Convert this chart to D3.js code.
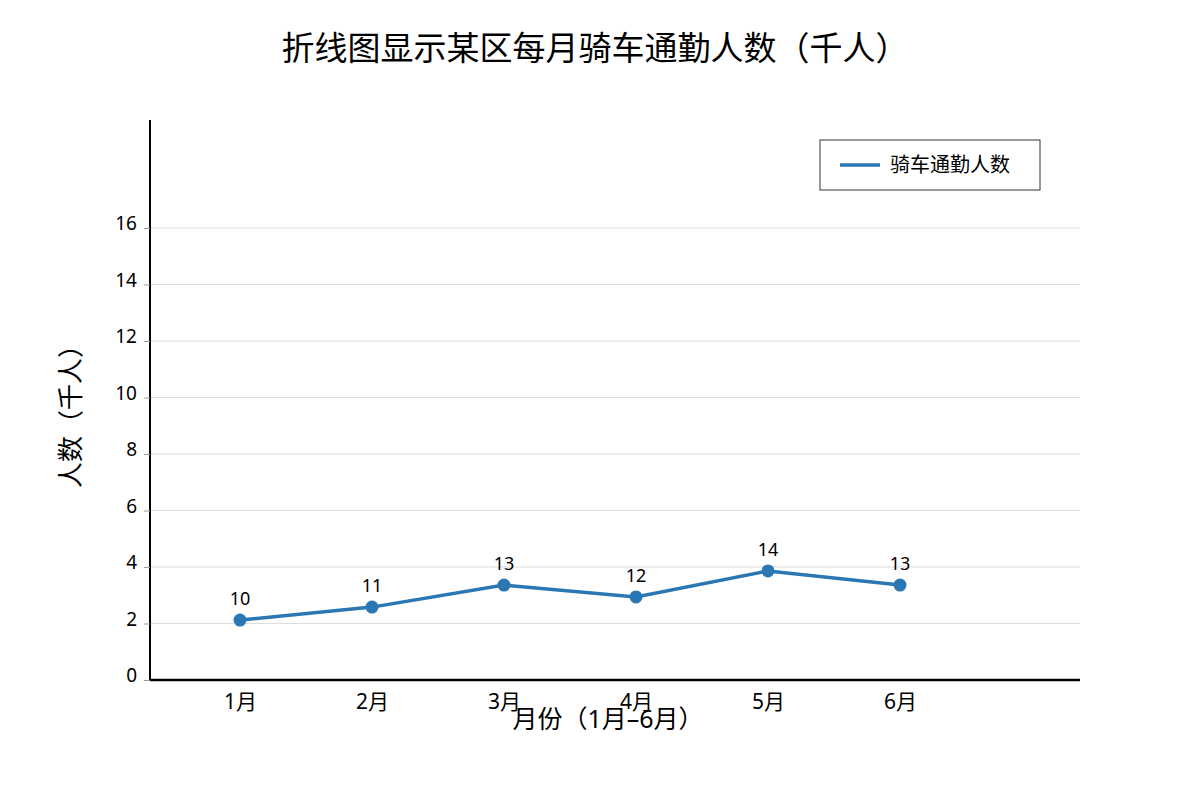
<!DOCTYPE html>
<html><head><meta charset="utf-8">
<script src="https://cdn.jsdelivr.net/npm/d3@7"></script>
<style>body{margin:0;background:#fff}text{font-family:"Noto Sans","Noto Sans CJK SC",sans-serif}</style>
</head><body><svg id="c" width="1200" height="800"></svg>
<script>
const months = ["1月","2月","3月","4月","5月","6月"];
const values = [2.12, 2.58, 3.36, 2.94, 3.86, 3.36];
const pointLabels = ["10","11","13","12","14","13"];
const yTicks = [0,2,4,6,8,10,12,14,16];
const color = "#2a77b4";
const svg = d3.select("#c");
const x = d3.scaleLinear().domain([0,5]).range([240,900]);
const y = d3.scaleLinear().domain([0,16]).range([680,228]);
svg.append("text").attr("x",595).attr("y",60).attr("text-anchor","middle").attr("font-size",33).text("折线图显示某区每月骑车通勤人数（千人）");
svg.append("g").selectAll("line").data(yTicks.filter(d=>d>0)).join("line")
  .attr("x1",150).attr("x2",1080).attr("y1",d=>y(d)).attr("y2",d=>y(d)).attr("stroke","#ddd").attr("stroke-width",1.2);
const ya = svg.append("g").attr("transform","translate(150,0)").call(d3.axisLeft(y).tickValues(yTicks).tickSize(6).tickFormat(d3.format("d")));
ya.select(".domain").attr("stroke","#000").attr("stroke-width",2).attr("d","M0,120V680");
ya.selectAll("text").attr("font-size",19).attr("fill","#000").attr("dx",-4).attr("dy","0.1em");
ya.selectAll(".tick line").attr("stroke","#999");
const xa = svg.append("g").attr("transform","translate(0,680)").call(d3.axisBottom(x).tickValues(d3.range(6)).tickFormat(i=>months[i]).tickSize(0));
xa.select(".domain").attr("stroke","#000").attr("stroke-width",2.5).attr("d","M150,0H1080");
xa.selectAll("text").attr("font-size",21).attr("fill","#000").attr("dy","1.25em");
svg.append("text").attr("x",608).attr("y",728).attr("text-anchor","middle").attr("font-size",25).text("月份（1月–6月）");
svg.append("text").attr("transform","translate(80,410) rotate(-90)").attr("text-anchor","middle").attr("font-size",26).text("人数（千人）");
svg.append("path").datum(values).attr("fill","none").attr("stroke",color).attr("stroke-width",3.5)
  .attr("d",d3.line().x((d,i)=>x(i)).y(d=>y(d)));
svg.append("g").selectAll("circle").data(values).join("circle").attr("cx",(d,i)=>x(i)).attr("cy",d=>y(d)).attr("r",6.5).attr("fill",color);
svg.append("g").selectAll("text").data(values).join("text").attr("x",(d,i)=>x(i)).attr("y",d=>y(d)-15)
  .attr("text-anchor","middle").attr("font-size",18).text((d,i)=>pointLabels[i]);
const lg = svg.append("g");
lg.append("rect").attr("x",820).attr("y",140).attr("width",220).attr("height",50).attr("fill","#fff").attr("stroke","#333");
lg.append("line").attr("x1",840).attr("x2",880).attr("y1",165).attr("y2",165).attr("stroke",color).attr("stroke-width",3.5);
lg.append("text").attr("x",890).attr("y",172).attr("font-size",20).text("骑车通勤人数");
</script></body></html>
